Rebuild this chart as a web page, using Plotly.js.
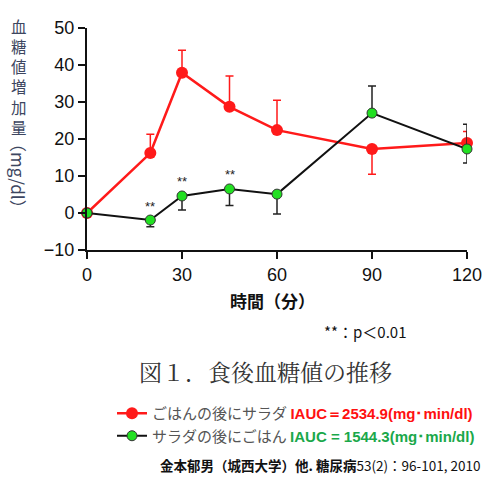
<!DOCTYPE html>
<html>
<head>
<meta charset="utf-8">
<script src="https://cdn.plot.ly/plotly-3.0.1.min.js"></script>
<style>
  html, body { margin: 0; padding: 0; background: #fff; }
  #chart { width: 500px; height: 483px; }
</style>
</head>
<body>
<div id="chart"></div>
<script>
// 時間（分）
const minutes = [0, 20, 30, 45, 60, 90, 120];

// ごはんの後にサラダ
const riceFirst = [0, 16.2, 37.9, 28.7, 22.4, 17.3, 18.9];
const riceFirstErrUp = [0, 5.1, 6.1, 8.3, 8.1, 0, 3.1];
const riceFirstErrDown = [0, 0, 0, 0, 0, 6.8, 0];

// サラダの後にごはん
const saladFirst = [0, -1.9, 4.6, 6.5, 5.1, 27.0, 17.3];
const saladFirstErrUp = [0, 0, 0, 0, 0, 7.3, 6.7];
const saladFirstErrDown = [0, 1.8, 3.8, 4.5, 5.4, 0, 3.8];

// ** : p<0.01 の時点
const sigMinutes = [20, 30, 45];

const xTicks = [0, 30, 60, 90, 120];
const yTicks = [-10, 0, 10, 20, 30, 40, 50];

const names = ['ごはんの後にサラダ', 'サラダの後にごはん'];
const iauc = ['IAUC＝2534.9(mg･min/dl)', 'IAUC = 1544.3(mg･min/dl)'];

// プロット領域（ピクセル）→ paper 座標
const plotL = 87, plotR = 467, plotT = 28, plotB = 250;
const px = x => (x - plotL) / (plotR - plotL);
const py = y => (plotB - y) / (plotB - plotT);

const jp = '"Noto Sans CJK JP", sans-serif';
const latin = '"Liberation Sans", Arial, sans-serif';

const legendName = (name, auc, color) =>
    `<span style="color:#555">${name}</span> ` +
    `<span style="font-family:'Liberation Sans';font-weight:bold;color:${color}">${auc}</span>`;

const riceTrace = {
    type: 'scatter',
    mode: 'lines+markers',
    x: minutes,
    y: riceFirst,
    name: legendName(names[0], iauc[0], '#ff1010'),
    line: { color: '#ff1a1a', width: 2.5 },
    marker: { color: '#ff1a1a', size: 12 },
    error_y: {
        type: 'data', symmetric: false,
        array: riceFirstErrUp, arrayminus: riceFirstErrDown,
        color: '#ff1a1a', thickness: 1.5, width: 4
    },
    cliponaxis: false
};

const saladTrace = {
    type: 'scatter',
    mode: 'lines+markers',
    x: minutes,
    y: saladFirst,
    name: legendName(names[1], iauc[1], '#1aa84a'),
    line: { color: '#111', width: 2 },
    marker: { color: '#22e022', size: 10, line: { color: '#333', width: 1 } },
    error_y: {
        type: 'data', symmetric: false,
        array: saladFirstErrUp, arrayminus: saladFirstErrDown,
        color: '#222', thickness: 1.5, width: 4
    },
    cliponaxis: false
};

// 有意差の ** 印
const sigNotes = sigMinutes.map(m => ({
    x: m, y: saladFirst[minutes.indexOf(m)],
    xref: 'x', yref: 'y',
    text: '**', showarrow: false,
    yshift: 14,
    font: { family: latin, size: 13, color: '#222' }
}));

// 縦書きの軸ラベル
const yLabel = [
    {
        xref: 'paper', yref: 'paper', x: px(19), y: py(13),
        xanchor: 'center', yanchor: 'top',
        text: '血<br>糖<br>値<br>増<br>加<br>量',
        showarrow: false,
        font: { family: jp, size: 15.5, color: '#3d4660' }
    },
    {
        xref: 'paper', yref: 'paper', x: px(19), y: py(176),
        xanchor: 'center', yanchor: 'middle',
        text: '（mg/dl）', textangle: 90,
        showarrow: false,
        font: { family: jp, size: 17, color: '#3d4660' }
    }
];

const texts = [
    {
        xref: 'paper', yref: 'paper', x: px(272), y: py(300),
        xanchor: 'center', yanchor: 'middle',
        text: '<b>時間（分）</b>', showarrow: false,
        font: { family: jp, size: 17, color: '#111' }
    },
    {
        xref: 'paper', yref: 'paper', x: px(322), y: py(331),
        xanchor: 'left', yanchor: 'middle',
        text: '**：p＜0.01', showarrow: false,
        font: { family: jp, size: 15, color: '#111' }
    },
    {
        xref: 'paper', yref: 'paper', x: px(265), y: py(371),
        xanchor: 'center', yanchor: 'middle',
        text: '図１．食後血糖値の推移', showarrow: false,
        font: { family: '"Noto Serif CJK JP", ' + jp, size: 23, color: '#333' }
    },
    {
        xref: 'paper', yref: 'paper', x: px(320), y: py(465),
        xanchor: 'center', yanchor: 'middle',
        text: '<b>金本郁男（城西大学）他. 糖尿病</b>53(2)：96-101, 2010', showarrow: false,
        font: { family: jp, size: 13.5, color: '#111' }
    }
];

const axisCommon = {
    showline: true, linecolor: '#111', linewidth: 2,
    ticks: 'outside', ticklen: 7, tickwidth: 2, tickcolor: '#111',
    showgrid: false, zeroline: false,
    tickfont: { family: latin, size: 18, color: '#111' },
    fixedrange: true
};

const layout = {
    width: 500, height: 483,
    margin: { l: plotL, r: 500 - plotR, t: plotT, b: 483 - plotB },
    paper_bgcolor: '#fff', plot_bgcolor: '#fff',
    xaxis: Object.assign({}, axisCommon, {
        range: [0, 120], tickvals: xTicks, ticktext: xTicks.map(String)
    }),
    yaxis: Object.assign({}, axisCommon, {
        range: [-10, 50], tickvals: yTicks
    }),
    showlegend: true,
    legend: {
        x: px(112), y: py(397), xanchor: 'left', yanchor: 'top',
        bgcolor: 'rgba(0,0,0,0)', borderwidth: 0,
        font: { family: jp, size: 15, color: '#555' },
        itemwidth: 30, tracegroupgap: 0
    },
    annotations: [...sigNotes, ...yLabel, ...texts]
};

Plotly.newPlot('chart', [riceTrace, saladTrace], layout, { displayModeBar: false, staticPlot: true });
</script>
</body>
</html>
